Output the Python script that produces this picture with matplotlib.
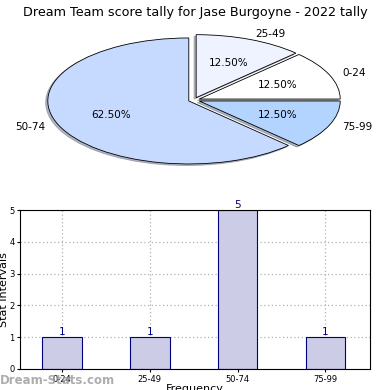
import matplotlib.pyplot as plt

ranges = ['0-24', '25-49', '50-74', '75-99']
counts = [1, 1, 5, 1]
pie_colors = ['#ffffff', '#eef3ff', '#c6d9ff', '#b3d4ff']
explode = [0.04, 0.04, 0.04, 0.04]

fig = plt.figure(figsize=(3.9, 3.9), dpi=100)

# pie, squashed into an ellipse
rx, ry = 141.0, 63.0
cx, cy = 194.0, 290.0
axp = fig.add_axes([0, (cy - 1.3 * ry) / 390, 1, 2.6 * ry / 390])
axp.pie(counts, labels=ranges, colors=pie_colors, explode=explode,
        autopct='%1.2f%%', startangle=0,
        shadow={'ox': -0.011, 'oy': -0.018, 'shade': 0.5},
        wedgeprops={'edgecolor': 'black', 'linewidth': 0.6},
        textprops={'fontsize': 7.5})
axp.set_aspect('auto')
axp.set_xlim(-cx / rx, (390 - cx) / rx)
axp.set_ylim(-1.3, 1.3)
fig.text(0.5, 0.985, 'Dream Team score tally for Jase Burgoyne - 2022 tally',
         ha='center', va='top', fontsize=9.2)

# bar chart
ax = fig.add_axes([20 / 390, 21 / 390, 350 / 390, 159 / 390])
x = range(len(ranges))
ax.bar(x, counts, width=0.45, color='#cccce6', edgecolor='navy', linewidth=0.8, zorder=2)
for i, c in zip(x, counts):
    ax.text(i, c, str(c), ha='center', va='bottom', color='navy', fontsize=7.5)
ax.set_xticks(list(x))
ax.set_xticklabels(ranges, fontsize=6)
ax.set_yticks(range(0, 6))
ax.tick_params(axis='y', labelsize=6, length=2, pad=2)
ax.tick_params(axis='x', length=2, pad=2)
ax.set_ylim(0, 5)
ax.set_xlim(-0.48, 3.51)
ax.grid(True, linestyle=(0, (1, 2)), color='#b0b0b0', linewidth=0.9, zorder=0)
ax.set_axisbelow(True)
ax.set_ylabel('Stat Intervals', fontsize=8, labelpad=0)
ax.set_xlabel('Frequency', fontsize=8, labelpad=0)

fig.text(0.0, 0.025, 'Dream-Stats.com', color='#999999', fontsize=8.5,
         fontweight='bold', ha='left', va='center', alpha=0.8)

fig.savefig('out.png', dpi=100)
